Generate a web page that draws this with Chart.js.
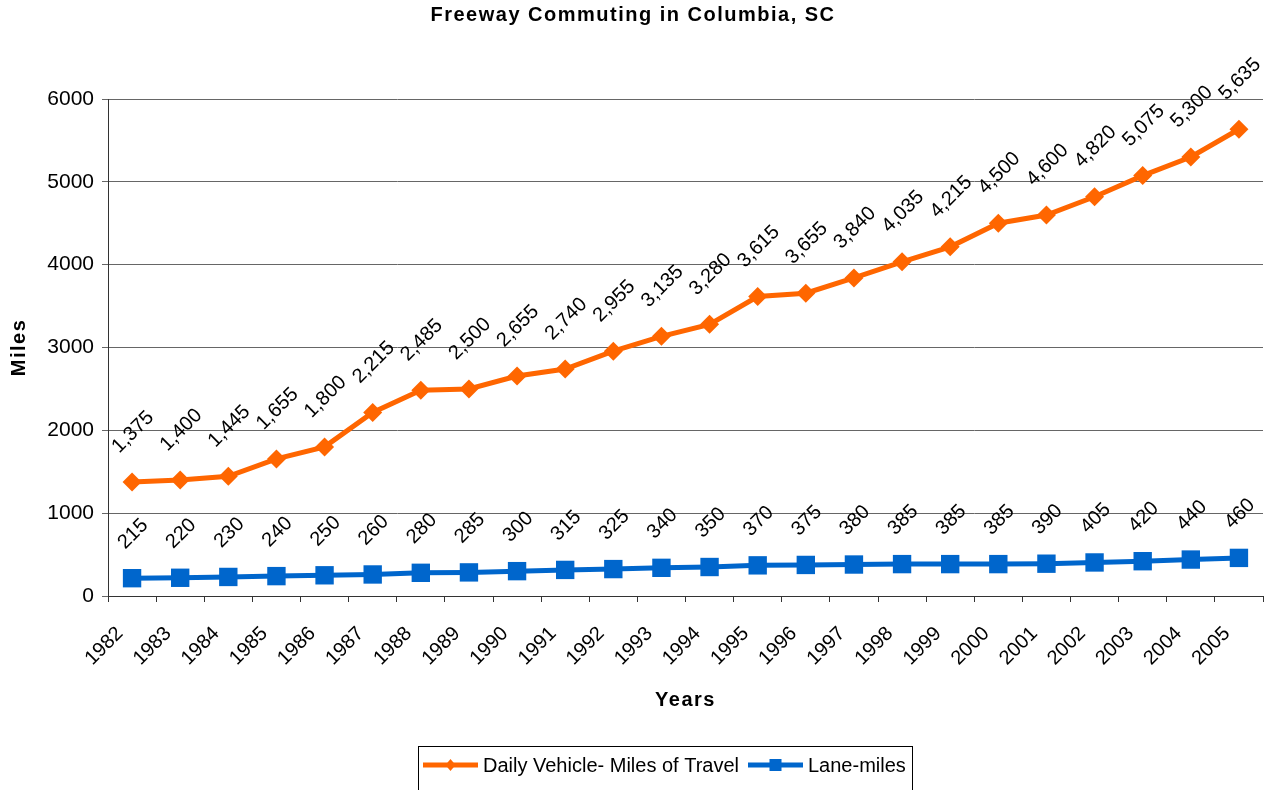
<!DOCTYPE html>
<html>
<head>
<meta charset="utf-8">
<title>Freeway Commuting in Columbia, SC</title>
<script src="https://cdn.jsdelivr.net/npm/chart.js@4.4.1/dist/chart.umd.min.js"></script>
<style>
  html, body { margin: 0; padding: 0; background: #fff; }
  #commuteChart { display: block; }
</style>
</head>
<body>
<canvas id="commuteChart" width="1266" height="790"></canvas>
<script>
const years = ['1982', '1983', '1984', '1985', '1986', '1987', '1988', '1989', '1990', '1991', '1992', '1993',
    '1994', '1995', '1996', '1997', '1998', '1999', '2000', '2001', '2002', '2003', '2004', '2005'];
const vehicleMiles = [1375, 1400, 1445, 1655, 1800, 2215, 2485, 2500, 2655, 2740, 2955, 3135,
    3280, 3615, 3655, 3840, 4035, 4215, 4500, 4600, 4820, 5075, 5300, 5635];
const laneMiles = [215, 220, 230, 240, 250, 260, 280, 285, 300, 315, 325, 340,
    350, 370, 375, 380, 385, 385, 385, 390, 405, 420, 440, 460];
const seriesNames = ['Daily Vehicle- Miles of Travel', 'Lane-miles'];
const yMin = 0, yMax = 6000, yStep = 1000;

const chartTitle = 'Freeway Commuting in Columbia, SC';
const xTitle = 'Years';
const yTitle = 'Miles';

const FONT = '"Liberation Sans", Arial, sans-serif';
const ORANGE = '#FF6600';
const BLUE = '#0066CC';

// value labels, rotated and sitting above each point
const valueLabels = {
    id: 'valueLabels',
    afterDatasetsDraw(chart) {
        const ctx = chart.ctx;
        ctx.save();
        ctx.font = '20px ' + FONT;
        ctx.fillStyle = '#000';
        ctx.textAlign = 'center';
        ctx.textBaseline = 'middle';
        chart.data.datasets.forEach((ds, i) => {
            chart.getDatasetMeta(i).data.forEach((pt, j) => {
                const text = ds.data[j].toLocaleString('en-US');
                const w = ctx.measureText(text).width;
                const boxH = (w + 15) * Math.SQRT1_2;
                const cy = pt.y - 27 - boxH / 2;
                ctx.save();
                ctx.translate(pt.x + 1, cy);
                ctx.rotate(-Math.PI / 4);
                ctx.fillText(text, 0, 0);
                ctx.restore();
            });
        });
        ctx.restore();
    }
};

// title, axis titles and the boxed legend
const chartText = {
    id: 'chartText',
    afterDraw(chart) {
        const ctx = chart.ctx;
        const area = chart.chartArea;
        ctx.save();
        ctx.fillStyle = '#000';
        ctx.font = 'bold 20px ' + FONT;
        ctx.letterSpacing = '1.5px';
        ctx.textAlign = 'center';
        ctx.textBaseline = 'alphabetic';
        ctx.fillText(chartTitle, chart.width / 2, 21);
        ctx.fillText(xTitle, (area.left + area.right) / 2, 706);
        ctx.save();
        ctx.translate(25, (area.top + area.bottom) / 2);
        ctx.rotate(-Math.PI / 2);
        ctx.fillText(yTitle, 0, 0);
        ctx.restore();
        ctx.letterSpacing = '0px';

        // legend
        ctx.strokeStyle = '#000';
        ctx.lineWidth = 1;
        ctx.strokeRect(418.5, 746.5, 494, 60);
        ctx.font = '20px ' + FONT;
        ctx.textAlign = 'left';
        ctx.textBaseline = 'middle';
        const items = [
            { x: 423, ds: chart.data.datasets[0] },
            { x: 748, ds: chart.data.datasets[1] }
        ];
        const ly = 765;
        items.forEach(it => {
            ctx.strokeStyle = it.ds.borderColor;
            ctx.lineWidth = 5;
            ctx.beginPath();
            ctx.moveTo(it.x, ly);
            ctx.lineTo(it.x + 55, ly);
            ctx.stroke();
            ctx.fillStyle = it.ds.backgroundColor;
            const cx = it.x + 27.5;
            if (it.ds.pointStyle === 'rectRot') {
                ctx.beginPath();
                ctx.moveTo(cx, ly - 6);
                ctx.lineTo(cx + 5, ly);
                ctx.lineTo(cx, ly + 6);
                ctx.lineTo(cx - 5, ly);
                ctx.closePath();
                ctx.fill();
            } else {
                ctx.fillRect(cx - 6, ly - 6, 12, 12);
            }
            ctx.fillStyle = '#000';
            ctx.fillText(it.ds.label, it.x + 60, ly + 1);
        });
        ctx.restore();
    }
};

const ctx = document.getElementById('commuteChart').getContext('2d');

new Chart(ctx, {
    type: 'line',
    data: {
        labels: years,
        datasets: [{
            label: seriesNames[0],
            data: vehicleMiles,
            borderColor: ORANGE,
            backgroundColor: ORANGE,
            borderWidth: 5,
            pointStyle: 'rectRot',
            pointRadius: 9.5,
            pointBorderWidth: 0,
            tension: 0
        }, {
            label: seriesNames[1],
            data: laneMiles,
            borderColor: BLUE,
            backgroundColor: BLUE,
            borderWidth: 5,
            pointStyle: 'rect',
            pointRadius: 13,
            pointBorderWidth: 0,
            tension: 0
        }]
    },
    options: {
        responsive: false,
        animation: false,
        layout: {
            autoPadding: false,
            padding: { top: 99, right: 3, bottom: 64, left: 0 }
        },
        plugins: {
            legend: { display: false },
            title: { display: false },
            tooltip: { enabled: false }
        },
        scales: {
            x: {
                offset: true,
                afterFit(scale) {
                    scale.height = 130;
                    scale.paddingLeft = 0;
                    scale.paddingRight = 0;
                },
                grid: {
                    offset: true,
                    drawOnChartArea: false,
                    drawTicks: true,
                    tickLength: 6,
                    color: '#333'
                },
                border: { color: '#333', width: 1 },
                ticks: {
                    color: '#000',
                    font: { family: FONT, size: 20 },
                    minRotation: 45,
                    maxRotation: 45,
                    padding: 20,
                    labelOffset: -12,
                    autoSkip: false
                }
            },
            y: {
                min: yMin,
                max: yMax,
                afterFit(scale) { scale.width = 108; },
                grid: {
                    color: '#666',
                    tickLength: 6
                },
                border: { color: '#333', width: 1 },
                ticks: {
                    stepSize: yStep,
                    color: '#000',
                    font: { family: FONT, size: 21 },
                    padding: 8,
                    callback: v => String(v)
                }
            }
        }
    },
    plugins: [valueLabels, chartText]
});
</script>
</body>
</html>
